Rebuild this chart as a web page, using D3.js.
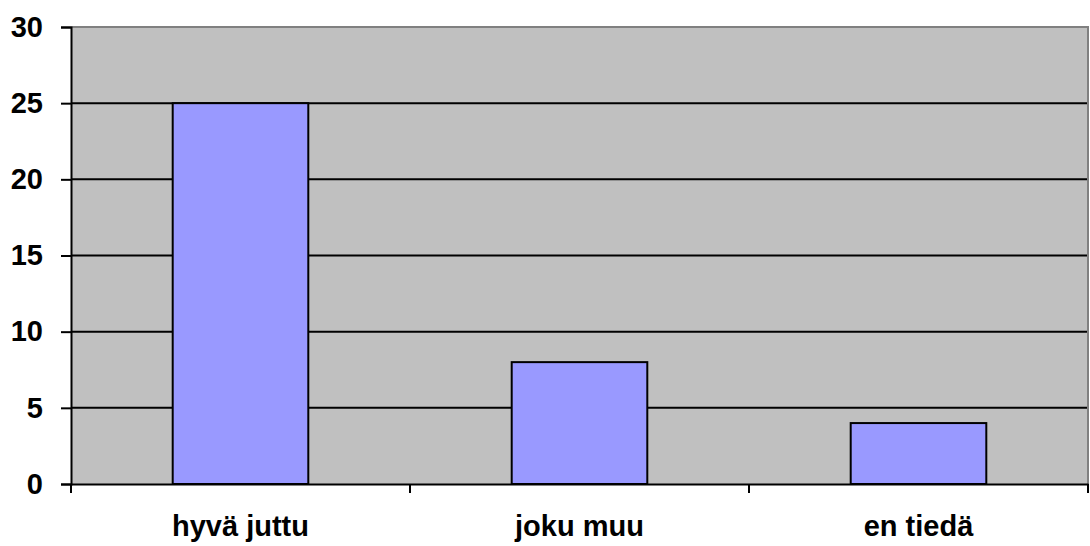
<!DOCTYPE html>
<html>
<head>
<meta charset="utf-8">
<script src="https://cdn.jsdelivr.net/npm/d3@7"></script>
<style>
body { margin: 0; background: #fff; }
svg { display: block; }
text { font-family: Arial, "Liberation Sans", sans-serif; font-weight: bold; }
</style>
</head>
<body>
<svg width="1090" height="546"></svg>
<script>
var categories = ["hyvä juttu", "joku muu", "en tiedä"];
var values = [25, 8, 4];
var yTicks = [0, 5, 10, 15, 20, 25, 30];

var svg = d3.select("svg"),
	plotLeft = 71,
	plotRight = 1088,
	plotTop = 27,
	plotBottom = 484;

var x = d3.scaleBand()
	.domain(categories)
	.range([plotLeft, plotRight])
	.paddingInner(0)
	.paddingOuter(0);

var y = d3.scaleLinear()
	.domain([0, 30])
	.range([plotBottom, plotTop]);

// plot background
svg.append("rect")
	.attr("x", plotLeft)
	.attr("y", plotTop)
	.attr("width", plotRight - plotLeft)
	.attr("height", plotBottom - plotTop)
	.attr("fill", "#c0c0c0");

// gridlines
svg.append("g")
	.selectAll("line")
	.data(yTicks.filter(function (d) { return d > 0 && d < 30; }))
	.enter().append("line")
	.attr("x1", plotLeft)
	.attr("x2", plotRight)
	.attr("y1", function (d) { return y(d); })
	.attr("y2", function (d) { return y(d); })
	.attr("stroke", "#000")
	.attr("stroke-width", 2);

// gray border top/right
svg.append("path")
	.attr("d", "M" + plotLeft + "," + plotTop + "H" + plotRight + "V" + plotBottom)
	.attr("fill", "none")
	.attr("stroke", "#808080")
	.attr("stroke-width", 2);

// bars
var bw = x.bandwidth() * 0.4;
svg.append("g")
	.selectAll("rect")
	.data(values)
	.enter().append("rect")
	.attr("x", function (d, i) { return x(categories[i]) + (x.bandwidth() - bw) / 2; })
	.attr("y", function (d) { return y(d); })
	.attr("width", bw)
	.attr("height", function (d) { return plotBottom - y(d); })
	.attr("fill", "#9999ff")
	.attr("stroke", "#000")
	.attr("stroke-width", 2);

// y axis
var yAxis = svg.append("g")
	.attr("transform", "translate(" + plotLeft + ",0)")
	.call(d3.axisLeft(y).tickValues(yTicks).tickSize(10).tickPadding(18));
yAxis.select(".domain").attr("stroke-width", 2);
yAxis.selectAll(".tick line").attr("stroke-width", 2);
yAxis.selectAll("text").attr("font-size", 29).attr("fill", "#000");

// x axis
var xAxis = svg.append("g")
	.attr("transform", "translate(0," + plotBottom + ")")
	.call(d3.axisBottom(x).tickSize(0).tickPadding(31));
xAxis.select(".domain").attr("stroke-width", 2);
xAxis.selectAll("text").attr("font-size", 29).attr("fill", "#000");

// category separators
var seps = [plotLeft].concat(categories.map(function (c) { return x(c) + x.bandwidth(); }));
svg.append("g")
	.selectAll("line")
	.data(seps)
	.enter().append("line")
	.attr("x1", function (d) { return d; })
	.attr("x2", function (d) { return d; })
	.attr("y1", plotBottom)
	.attr("y2", plotBottom + 9)
	.attr("stroke", "#000")
	.attr("stroke-width", 2);
</script>
</body>
</html>
